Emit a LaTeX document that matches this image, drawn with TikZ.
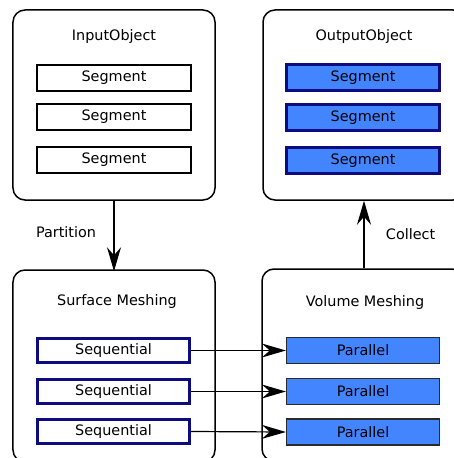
\documentclass[tikz,border=0pt]{standalone}
\usepackage{fontspec}
\setmainfont{DejaVu Sans}
\usetikzlibrary{arrows.meta}
\definecolor{navy}{HTML}{0C0C80}
\definecolor{meshblue}{HTML}{4285FF}
\definecolor{edge}{HTML}{2A2A2A}

\begin{document}
\begin{tikzpicture}[x=1bp,y=-1bp,>={Stealth[length=24bp,width=14bp,inset=8bp]},
  font=\fontsize{14.4bp}{16bp}\selectfont,
  stage/.style={draw=black,line width=1.5bp,rounded corners=12bp,
    minimum width=202bp,minimum height=192bp,inner sep=0pt},
  segplain/.style={draw=black,line width=1.2bp,fill=white,
    minimum width=154bp,minimum height=26bp,inner sep=0pt},
  segdone/.style={draw=navy,line width=3bp,fill=meshblue,
    minimum width=153bp,minimum height=26bp,inner sep=0pt},
  seqbox/.style={draw=navy,line width=3bp,fill=white,
    minimum width=152bp,minimum height=24bp,inner sep=0pt},
  parbox/.style={draw=edge,line width=1.3bp,fill=meshblue,
    minimum width=153bp,minimum height=26bp,inner sep=0pt}]
 \useasboundingbox (0,0) rectangle (454,458);
 % the four stages
 \node[stage,minimum height=190bp] (inobj) at (114,105) {};
 \node[stage,minimum height=190bp] (outobj) at (364,105) {};
 \node[stage] (surf) at (114,366) {};
 \node[stage] (vol) at (363,365) {};
 \node (intitle) at (114,37) {InputObject};
 \node (outtitle) at (364,37) {OutputObject};
 \node (surftitle) at (117,302) {Surface Meshing};
 \node (voltitle) at (365,303) {Volume Meshing};
 % segments
 \node[segplain] (in1) at (114,78) {Segment};
 \node[segplain] (in2) at (114,117) {Segment};
 \node[segplain] (in3) at (114,160) {Segment};
 \node[segdone] (out1) at (363,77.5) {Segment};
 \node[segdone] (out2) at (363,117.5) {Segment};
 \node[segdone] (out3) at (363,160.5) {Segment};
 % meshing tasks
 \node[seqbox] (seq1) at (113.5,350.5) {Sequential};
 \node[seqbox] (seq2) at (113.5,391.5) {Sequential};
 \node[seqbox] (seq3) at (113.5,431.5) {Sequential};
 \node[parbox] (par1) at (363,350.5) {Parallel};
 \node[parbox] (par2) at (363,391.5) {Parallel};
 \node[parbox] (par3) at (363,432) {Parallel};
 \foreach \i in {1,2,3}
  \draw[->,line width=1.2bp] (seq\i.east) -- (par\i.west);
 \draw[->,line width=1.3bp] (inobj.south) -- ([yshift=-2bp]surf.north)
   node[pos=0.45,left=14bp] {Partition};
 \draw[->,line width=1.3bp] (outobj.south |- vol.north) -- (outobj.south)
   node[midway,right=18bp] {Collect};
\end{tikzpicture}
\end{document}
